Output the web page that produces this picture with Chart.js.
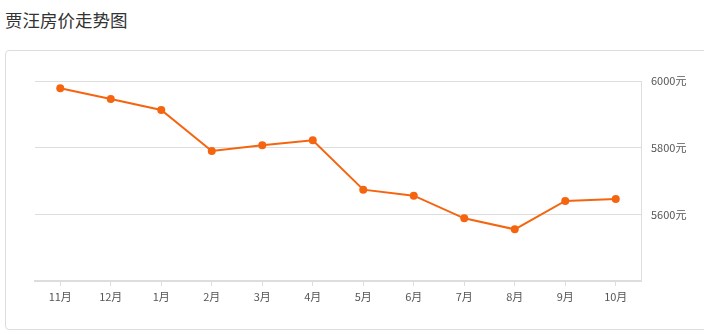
<!DOCTYPE html>
<html>
<head>
<meta charset="utf-8">
<script src="https://cdn.jsdelivr.net/npm/chart.js@4"></script>
<style>
    body { margin: 0; background: #fff; font-family: "Noto Sans CJK SC", sans-serif; }
    #wrap { position: relative; width: 704px; height: 335px; overflow: hidden; }
    #title { position: absolute; left: 5px; top: 8px; font-size: 17.5px; color: #333; line-height: 24px; }
    #card { position: absolute; left: 5px; top: 50px; width: 720px; height: 280px; border: 1px solid #ddd; border-radius: 4px; box-sizing: border-box; }
    #chart { position: absolute; left: 0; top: 0; }
</style>
</head>
<body>
<div id="wrap">
    <div id="title">贾汪房价走势图</div>
    <div id="card"></div>
    <canvas id="chart" width="704" height="335"></canvas>
</div>
<script>
const months = ['11月', '12月', '1月', '2月', '3月', '4月', '5月', '6月', '7月', '8月', '9月', '10月'];
const prices = [5978, 5946, 5913, 5790, 5807, 5822, 5674, 5656, 5588, 5555, 5640, 5646];
const yTicks = [5400, 5600, 5800, 6000];

const lineColor = '#f5650f';
const ctx = document.getElementById('chart').getContext('2d');

new Chart(ctx, {
    type: 'line',
    data: {
        labels: months,
        datasets: [{
            data: prices,
            borderColor: lineColor,
            backgroundColor: lineColor,
            borderWidth: 2,
            pointRadius: 4,
            pointBorderWidth: 0,
            tension: 0,
            fill: false
        }]
    },
    options: {
        responsive: false,
        animation: false,
        layout: { padding: { top: 81, left: 35, right: 0, bottom: 0 } },
        plugins: {
            legend: { display: false },
            tooltip: { enabled: false }
        },
        scales: {
            x: {
                offset: true,
                grid: { drawOnChartArea: false, drawTicks: true, tickLength: 5, color: '#ddd' },
                border: { display: true, color: '#ddd', width: 2 },
                ticks: {
                    color: '#555',
                    padding: 4,
                    maxRotation: 0,
                    font: { family: '"Noto Sans CJK SC"', size: 11 }
                },
                afterFit: function(scale) { scale.height = 54; }
            },
            y: {
                position: 'right',
                min: yTicks[0],
                max: yTicks[yTicks.length - 1],
                afterBuildTicks: function(scale) {
                    scale.ticks = yTicks.map(v => ({ value: v }));
                },
                grid: { color: '#ddd', drawTicks: false },
                border: { display: true, color: '#ddd', width: 1 },
                ticks: {
                    color: '#555',
                    padding: 10,
                    font: { family: '"Noto Sans CJK SC"', size: 11 },
                    callback: function(value) {
                        return value === yTicks[0] ? '' : value + '元';
                    }
                },
                afterFit: function(scale) { scale.width = 63; }
            }
        }
    }
});
</script>
</body>
</html>
